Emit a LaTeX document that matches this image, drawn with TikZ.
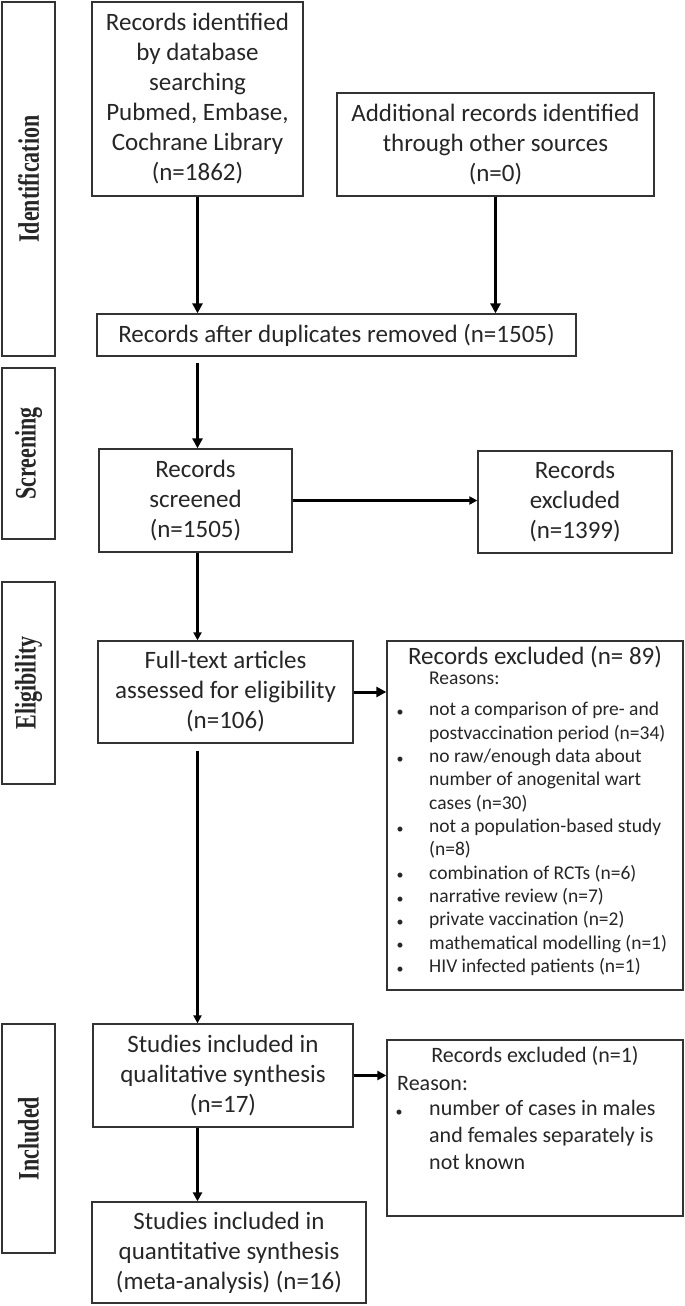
\documentclass[tikz,border=0pt]{standalone}
\usepackage{fontspec}
\setmainfont{Carlito}
\newfontfamily\stagefont{Liberation Serif}
\usetikzlibrary{arrows.meta}
\definecolor{ink}{HTML}{262626}
\definecolor{edge}{HTML}{333333}
\begin{document}
\begin{tikzpicture}[x=1pt,y=-1pt,
  box/.style={draw=edge, line width=1.3pt, inner sep=0pt, align=center, text=ink,
              font=\fontsize{25}{30}\selectfont},
  stagebox/.style={draw=edge, line width=1.3pt, inner sep=0pt, minimum width=53pt},
  stagelabel/.style={rotate=90, yscale=1.35, inner sep=0pt, text=ink,
              font=\stagefont\bfseries\fontsize{22}{26}\selectfont},
  big/.style={inner sep=0pt, text=ink, font=\fontsize{25}{30}\selectfont},
  mid/.style={inner sep=0pt, text=ink, font=\fontsize{22}{26}\selectfont},
  small/.style={inner sep=0pt, text=ink, font=\fontsize{19.5}{23}\selectfont},
  dot/.style={inner sep=0pt, text=ink, font=\fontsize{14}{16}\selectfont},
  arrthick/.style={-{Triangle[length=10pt,width=10pt]}, line width=3pt, draw=black},
  arrmed/.style={-{Triangle[length=9pt,width=9pt]}, line width=2.6pt, draw=black},
  arrthin/.style={-{Triangle[length=8pt,width=8pt]}, line width=2.2pt, draw=black}]
\useasboundingbox (0,0) rectangle (685,1306);

% stage boxes
\node[stagebox, minimum height=354pt] (s1) at (28.5,179) {};
\node[stagelabel] (s1t) at (s1.center) {Identification};
\node[stagebox, minimum height=171pt] (s2) at (28.5,453.5) {};
\node[stagelabel] (s2t) at (s2.center) {Screening};
\node[stagebox, minimum height=202pt] (s3) at (28.5,683) {};
\node[stagelabel] (s3t) at (s3.center) {Eligibility};
\node[stagebox, minimum height=229pt] (s4) at (28.5,1138.5) {};
\node[stagelabel] (s4t) at (s4.center) {Included};

% main boxes
\node[box, minimum width=211pt, minimum height=194pt] (A) at (197.5,99)
  {Records identified\\by database\\searching\\Pubmed, Embase,\\Cochrane Library\\(n=1862)};
\node[box, minimum width=317pt, minimum height=103pt] (B) at (495.5,144.5)
  {Additional records identified\\through other sources\\(n=0)};
\node[box, minimum width=479pt, minimum height=42pt] (C) at (336.5,335)
  {Records after duplicates removed (n=1505)};
\node[box, minimum width=193pt, minimum height=103pt] (D) at (195.5,500.5)
  {Records\\screened\\(n=1505)};
\node[box, minimum width=194pt, minimum height=102pt] (E) at (575,502)
  {Records\\excluded\\(n=1399)};
\node[box, minimum width=255pt, minimum height=102pt] (F) at (225.5,692)
  {Full-text articles\\assessed for eligibility\\(n=106)};
\node[box, minimum width=296pt, minimum height=349pt] (G) at (535,815.5) {};
\node[box, minimum width=260pt, minimum height=103pt] (H) at (223,1075.5)
  {Studies included in\\qualitative synthesis\\(n=17)};
\node[box, minimum width=296pt, minimum height=176pt] (I) at (535,1128) {};
\node[box, minimum width=274pt, minimum height=101pt] (J) at (229,1252.5)
  {Studies included in\\quantitative synthesis\\(meta-analysis) (n=16)};

% text of box G
\node[big, anchor=mid] (gt) at (535,662) {Records excluded (n= 89)};
\node[small, anchor=mid west] (gr) at (429,682) {Reasons:};
\foreach \y/\t/\b [count=\i] in {
  713.3/not a comparison of pre- and/1,
  736.7/postvaccination period (n=34)/0,
  760/no raw\slash enough data about/1,
  783.3/number of anogenital wart/0,
  806.7/cases (n=30)/0,
  830/not a population-based study/1,
  853.3/(n=8)/0,
  876.7/combination of RCTs (n=6)/1,
  900/narrative review (n=7)/1,
  923.3/private vaccination (n=2)/1,
  946.7/mathematical modelling (n=1)/1,
  970/HIV infected patients (n=1)/1}{
  \node[small, anchor=mid west] (g\i) at (429,\y) {\t};
  \ifnum\b=1 \node[dot] (gb\i) at (400,\y) {•};\fi
}

% text of box I
\node[mid, anchor=mid] (it) at (535,1060) {Records excluded (n=1)};
\node[mid, anchor=mid west] (ir) at (397,1088) {Reason:};
\node[dot] (ib) at (399,1113) {•};
\node[mid, anchor=mid west] (i1) at (429,1113) {number of cases in males};
\node[mid, anchor=mid west] (i2) at (429,1140) {and females separately is};
\node[mid, anchor=mid west] (i3) at (429,1167) {not known};

% connectors
\draw[arrthick] (A.south) -- (A.south |- C.north);
\draw[arrthick] (B.south) -- (B.south |- C.north);
\draw[arrthick, shorten <=6pt] (A.south |- C.south) -- (A.south |- D.north);
\draw[arrthin] (D.east) -- (D.east -| E.west);
\draw[arrthin] (A.south |- D.south) -- (A.south |- F.north);
\draw[arrthick] (F.east) -- (F.east -| G.west);
\draw[arrthin, shorten <=7pt] (A.south |- F.south) -- (A.south |- H.north);
\draw[arrmed] (H.east) -- (H.east -| I.west);
\draw[arrmed] (A.south |- H.south) -- (A.south |- J.north);
\end{tikzpicture}
\end{document}
